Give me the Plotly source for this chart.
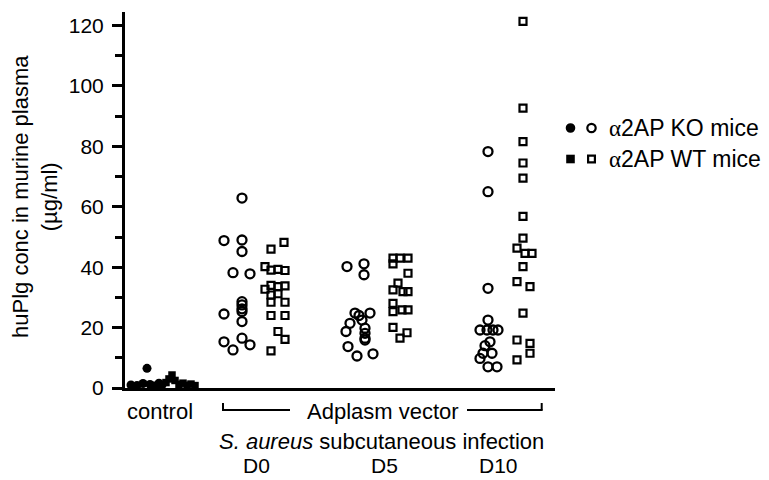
import plotly.graph_objects as go

# ---- data (x = horizontal position on a 125..555 axis, y = huPlg µg/ml) ----
ctrl_ko_x = [131, 137, 143, 147, 150, 155, 159, 162]
ctrl_ko_y = [1.0, 0.8, 1.5, 6.5, 1.2, 0.7, 1.6, 1.0]
ctrl_wt_x = [166, 169, 172, 175, 179, 183, 187, 191, 195]
ctrl_wt_y = [1.8, 3.0, 4.3, 2.5, 1.2, 1.6, 0.9, 1.3, 0.8]

d0_ko_x = [242, 224, 242, 242, 233, 250, 242, 242, 242, 224, 242, 242, 224, 242, 233, 250]
d0_ko_y = [62.9, 48.8, 49.0, 45.2, 38.2, 37.8, 28.6, 27.5, 26.2, 24.5, 25.3, 22.0, 15.3, 16.5, 12.6, 14.3]
d0_wt_x = [284, 271, 265, 271, 278, 285, 265, 271, 278, 285, 271, 278, 271, 285, 271, 285, 278, 285, 271]
d0_wt_y = [48.2, 46.0, 40.2, 39.0, 39.3, 38.9, 32.7, 34.0, 33.6, 33.8, 30.8, 31.2, 28.4, 28.4, 24.0, 24.0, 18.7, 16.1, 12.3]

d5_ko_x = [347, 364, 364, 370, 355, 359, 362, 350, 365, 365, 365, 346, 348, 357, 373, 365]
d5_ko_y = [40.2, 41.1, 37.5, 24.8, 24.8, 24.0, 22.5, 21.4, 19.8, 18.1, 16.5, 18.7, 13.7, 10.6, 11.3, 15.9]
d5_wt_x = [393, 400, 408, 393, 408, 398, 393, 403, 408, 393, 393, 402, 408, 393, 400, 407]
d5_wt_y = [43.0, 43.0, 43.0, 41.1, 38.0, 34.7, 32.5, 31.9, 31.9, 28.0, 25.3, 25.9, 25.9, 20.1, 16.5, 18.3]

d10_ko_x = [488, 488, 488, 488, 480, 487, 493, 498, 490, 485, 483, 492, 480, 488, 497]
d10_ko_y = [78.3, 65.0, 33.0, 22.5, 19.2, 19.2, 19.2, 19.2, 15.3, 14.0, 11.5, 11.5, 9.8, 7.0, 7.0]
d10_wt_x = [523, 523, 523, 523, 523, 523, 523, 517, 525, 532, 523, 517, 530, 523, 517, 530, 530, 517]
d10_wt_y = [121.4, 92.7, 81.6, 74.5, 69.5, 56.8, 49.6, 46.3, 44.6, 44.6, 40.2, 35.2, 33.6, 24.8, 15.9, 14.8, 11.5, 9.3]

y_ticks = [0, 20, 40, 60, 80, 100, 120]
group_labels = ["D0", "D5", "D10"]
group_label_x = [256, 384, 498]

FONT = "Liberation Sans, Arial, Helvetica, sans-serif"
fig = go.Figure()

def add(x, y, symbol, size, lw=0):
    fig.add_trace(go.Scatter(
        x=x, y=y, mode="markers", showlegend=False, cliponaxis=False,
        marker=dict(symbol=symbol, size=size, color="black",
                    line=dict(color="black", width=lw)),
        hoverinfo="skip"))

add(ctrl_ko_x, ctrl_ko_y, "circle", 9)
add(ctrl_wt_x, ctrl_wt_y, "square", 7.5)
for xs, ys in [(d0_ko_x, d0_ko_y), (d5_ko_x, d5_ko_y), (d10_ko_x, d10_ko_y)]:
    add(xs, ys, "circle-open", 9, 2.3)
for xs, ys in [(d0_wt_x, d0_wt_y), (d5_wt_x, d5_wt_y), (d10_wt_x, d10_wt_y)]:
    add(xs, ys, "square-open", 7, 2.2)

H = 376.0  # plot height px
def py(p):  # screen pixel row -> paper y
    return (388 - p) / H
def px(p):  # screen pixel col -> paper x
    return (p - 125) / 430.0

shapes = []
# bracket under "Adplasm vector"
for (x0, y0, x1, y1) in [(223, 403, 223, 410.5), (222, 410, 290, 410),
                         (467, 410, 542.5, 410), (541.7, 403, 541.7, 410.5)]:
    shapes.append(dict(type="line", xref="x", yref="paper", x0=x0, x1=x1,
                       y0=py(y0), y1=py(y1), line=dict(color="black", width=2)))
# legend symbols
def sym(kind, cx, cy, r, filled):
    return dict(type=kind, xref="paper", yref="paper", xsizemode="pixel", ysizemode="pixel",
                xanchor=px(cx), yanchor=py(cy), x0=-r, x1=r, y0=-r, y1=r,
                fillcolor="black" if filled else "white",
                line=dict(color="black", width=0 if filled else 2.2))
shapes += [sym("circle", 570.5, 128, 4.8, True), sym("circle", 591.5, 128, 4.2, False),
           sym("rect", 570.5, 159, 4.3, True), sym("rect", 591.5, 159, 3.4, False)]

ann = []
def text(t, x, y, size=22, anchor="center", xref="x", **kw):
    ann.append(dict(text=t, x=x, y=y, xref=xref, yref="paper", showarrow=False,
                    xanchor=anchor, yanchor="middle", font=dict(family=FONT, size=size, color="black"), **kw))

ALPHA = '<span style="font-family:Liberation Serif, Times New Roman, serif">α</span>'
text("control", 160, py(411))
text("Adplasm vector", 382.5, py(411))
text("<i>S. aureus</i> subcutaneous infection", 381, py(441))
for lab, gx in zip(group_labels, group_label_x):
    text(lab, gx, py(465.5), size=21)
text(ALPHA + "2AP KO mice", px(607), py(128), size=23, anchor="left", xref="paper")
text(ALPHA + "2AP WT mice", px(607), py(159), size=23, anchor="left", xref="paper")
text("huPlg conc in murine plasma<br>(µg/ml)", px(35), py(197), xref="paper", textangle=-90)

# page body has an 8px margin: shrink figure and offsets by 8px so the plot lands on target pixels
fig.update_layout(
    width=761, height=472, margin=dict(l=117, r=214, t=4, b=92),
    plot_bgcolor="white", paper_bgcolor="white",
    font=dict(family=FONT, size=21, color="black"),
    shapes=shapes, annotations=ann,
    xaxis=dict(range=[125, 555], showgrid=False, zeroline=False, showline=True,
               linecolor="black", linewidth=3, showticklabels=False, ticks=""),
    yaxis=dict(range=[0, 124.5], showgrid=False, zeroline=False, showline=True,
               linecolor="black", linewidth=3, tickvals=y_ticks, ticks="outside",
               ticklen=10, tickwidth=2.5, tickcolor="black", ticklabelstandoff=4,
               tickfont=dict(family=FONT, size=21),
               minor=dict(dtick=10, tick0=0, ticks="outside", ticklen=7, tickwidth=2.5,
                          tickcolor="black")),
)

fig.write_html("out.html")
